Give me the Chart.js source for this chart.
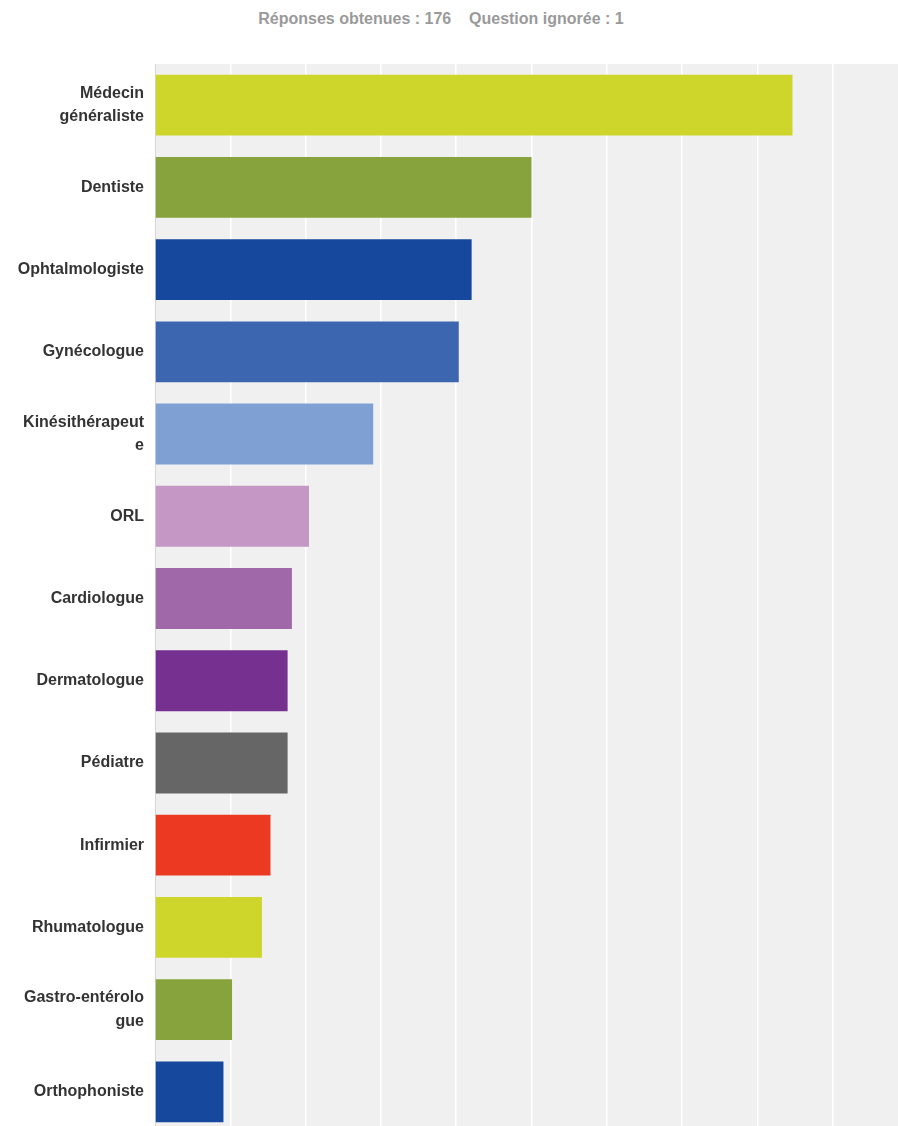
<!DOCTYPE html>
<html>
<head>
<meta charset="utf-8">
<script src="https://cdn.jsdelivr.net/npm/chart.js@4.4.0/dist/chart.umd.min.js"></script>
<style>
  html, body { margin: 0; padding: 0; background: #fff; overflow: hidden; }
  #wrap { position: relative; width: 898px; height: 1126px; overflow: hidden; }
  #titre {
    position: absolute; top: 10px; left: 0; width: 882px; text-align: center;
    font: bold 16px "Liberation Sans", Arial, sans-serif; color: #9a9a9a;
    white-space: pre;
  }
  canvas { position: absolute; left: 0; top: 0; }
</style>
</head>
<body>
<div id="wrap">
  <div id="titre">Réponses obtenues : 176    Question ignorée : 1</div>
  <canvas id="chartPro" width="908" height="1134"></canvas>
</div>
<script>
// Données
const categories = [
  ['Médecin', 'généraliste'], 'Dentiste', 'Ophtalmologiste', 'Gynécologue',
  ['Kinésithérapeut', 'e'], 'ORL', 'Cardiologue', 'Dermatologue', 'Pédiatre',
  'Infirmier', 'Rhumatologue', ['Gastro-entérolo', 'gue'], 'Orthophoniste'
];
// % des 176 réponses
const pourcentages = [84.66, 50.0, 42.05, 40.34, 28.98, 20.45, 18.18, 17.61, 17.61, 15.34, 14.2, 10.23, 9.09];
const couleurs = [
  '#cfd62b', '#86a33d', '#16499e', '#3c66b0', '#7ea0d3', '#c597c5', '#a068a8',
  '#76308f', '#666666', '#ec3a22', '#cfd62b', '#86a33d', '#16499e'
];

// fond gris de la zone de tracé
const fondZone = {
  id: 'fondZone',
  beforeDraw(chart) {
    const { ctx, chartArea: a } = chart;
    ctx.save();
    ctx.fillStyle = '#f0f0f0';
    ctx.fillRect(a.left, a.top, a.right - a.left, a.bottom - a.top);
    ctx.restore();
  }
};

const ctx = document.getElementById('chartPro').getContext('2d');
new Chart(ctx, {
  type: 'bar',
  data: {
    labels: categories,
    datasets: [{
      data: pourcentages,
      backgroundColor: couleurs,
      borderWidth: 0,
      barPercentage: 0.74,
      categoryPercentage: 1
    }]
  },
  options: {
    indexAxis: 'y',
    responsive: false,
    animation: false,
    layout: { padding: { top: 64, right: 0, bottom: 1, left: 0 } },
    plugins: {
      legend: { display: false },
      tooltip: { enabled: false }
    },
    scales: {
      x: {
        min: 0,
        max: 100,
        afterFit(scale) { scale.height = 0; },
        ticks: { display: false, stepSize: 10 },
        grid: { color: '#ffffff', lineWidth: 1.5, drawTicks: false },
        border: { display: false }
      },
      y: {
        afterFit(scale) {
          scale.width = 155;
          scale.paddingTop = 0;
          scale.paddingBottom = 0;
        },
        grid: { display: false, drawTicks: false },
        border: { display: true, color: '#d6d6d6', width: 1 },
        ticks: {
          padding: 11,
          color: '#333333',
          font: { family: '"Liberation Sans", Arial, sans-serif', size: 16, weight: 'bold', lineHeight: 1.45 }
        }
      }
    }
  },
  plugins: [fondZone]
});
</script>
</body>
</html>
